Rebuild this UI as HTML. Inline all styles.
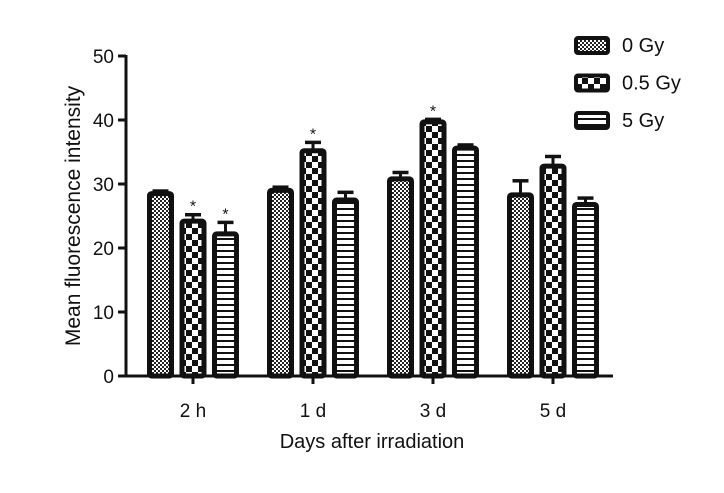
<!DOCTYPE html>
<html><head><meta charset="utf-8"><style>
body{margin:0;background:#fff}
svg text{font-family:"Liberation Sans",sans-serif;fill:#111}
</style></head><body>
<svg id="c" width="724" height="488" xmlns="http://www.w3.org/2000/svg">
<defs>
<pattern id="p0" width="4" height="4" patternUnits="userSpaceOnUse"><rect width="4" height="4" fill="#fff"/><rect width="2" height="2" fill="#222"/><rect x="2" y="2" width="2" height="2" fill="#222"/></pattern>
<pattern id="p1" width="12" height="12" patternUnits="userSpaceOnUse"><rect width="12" height="12" fill="#fff"/><rect width="6" height="6" fill="#111"/><rect x="6" y="6" width="6" height="6" fill="#111"/></pattern>
<pattern id="p2" width="6" height="6" patternUnits="userSpaceOnUse"><rect width="6" height="6" fill="#fff"/><rect y="4" width="6" height="2" fill="#111"/></pattern>
</defs>
<g id="axes"></g><g id="bars"></g><g id="legend"></g>
</svg>
<script>
const categories=["2 h","1 d","3 d","5 d"];
const series=["0 Gy","0.5 Gy","5 Gy"];
const values0=[28.5,29.0,30.8,28.3];
const values1=[24.2,35.2,39.7,32.8];
const values2=[22.2,27.5,35.6,26.8];
const errors0=[0.4,0.5,1.0,2.2];
const errors1=[1.0,1.3,0.4,1.5];
const errors2=[1.8,1.2,0.5,1.0];
const stars1=[true,true,true,false];
const stars2=[true,false,false,false];
const yTicks=[0,10,20,30,40,50];
const NS="http://www.w3.org/2000/svg";
const y0=376,pxPerUnit=6.4,axisX=126;
const y=v=>y0-v*pxPerUnit;
const gx=i=>193+i*120;
function mk(t,a,p){const e=document.createElementNS(NS,t);for(const k in a)e.setAttribute(k,a[k]);p.appendChild(e);return e;}
const ax=document.getElementById('axes');
let l=mk('line',{x1:axisX,y1:y(50)-1,x2:axisX,y2:y0+1.5,stroke:'#111','stroke-width':3},ax);


l=mk('line',{x1:axisX-1.5,y1:y0,x2:613,y2:y0,stroke:'#111','stroke-width':3},ax);


yTicks.forEach(t=>{
 const tk=mk('line',{x1:axisX-8,y1:y(t),x2:axisX,y2:y(t),stroke:'#111','stroke-width':3},ax);
 
 
 const tx=mk('text',{x:axisX-12,y:y(t)+7,'text-anchor':'end','font-size':19},ax);tx.textContent=t;
 
 
});
categories.forEach((c,i)=>{
 const tk=mk('line',{x1:gx(i),y1:y0,x2:gx(i),y2:y0+8,stroke:'#111','stroke-width':3},ax);
 
 
 const tx=mk('text',{x:gx(i),y:417,'text-anchor':'middle','font-size':19},ax);tx.textContent=c;
 
 
});
let t=mk('text',{x:372,y:448,'text-anchor':'middle','font-size':20},ax);t.textContent='Days after irradiation';


t=mk('text',{x:0,y:0,'text-anchor':'middle','font-size':21,transform:'translate(80,216) rotate(-90)'},ax);t.textContent='Mean fluorescence intensity';


const bg=document.getElementById('bars');
const vals=[values0,values1,values2],errs=[errors0,errors1,errors2],stars=[null,stars1,stars2];
categories.forEach((c,i)=>{
 for(let s=0;s<3;s++){
  const cx=gx(i)+(s-1)*32.5,v=vals[s][i],e=errs[s][i],w=22;
  const el=mk('line',{x1:cx,y1:y(v),x2:cx,y2:y(v+e),stroke:'#111','stroke-width':3},bg);
  
  
  const cap=mk('line',{x1:cx-8,y1:y(v+e),x2:cx+8,y2:y(v+e),stroke:'#111','stroke-width':3.5},bg);
  
  
  const r=mk('rect',{x:cx-w/2,y:y(v),width:w,height:y0-y(v),fill:'url(#p'+s+')',stroke:'#111','stroke-width':5,rx:2},bg);
  
  
  if(stars[s]&&stars[s][i]){
   const st=mk('text',{x:cx,y:y(v+e)-3,'text-anchor':'middle','font-size':16},bg);st.textContent='*';
   
   
  }
 }
});
const lg=document.getElementById('legend');
series.forEach((s,k)=>{
 const yy=45+k*37.5;
 const r=mk('rect',{x:576,y:yy-7,width:32,height:15,fill:'url(#p'+k+')',stroke:'#111','stroke-width':4,rx:2},lg);
 
 
 const tx=mk('text',{x:622,y:yy+7,'font-size':20},lg);tx.textContent=s;
 
 
});
</script>
</body></html>
